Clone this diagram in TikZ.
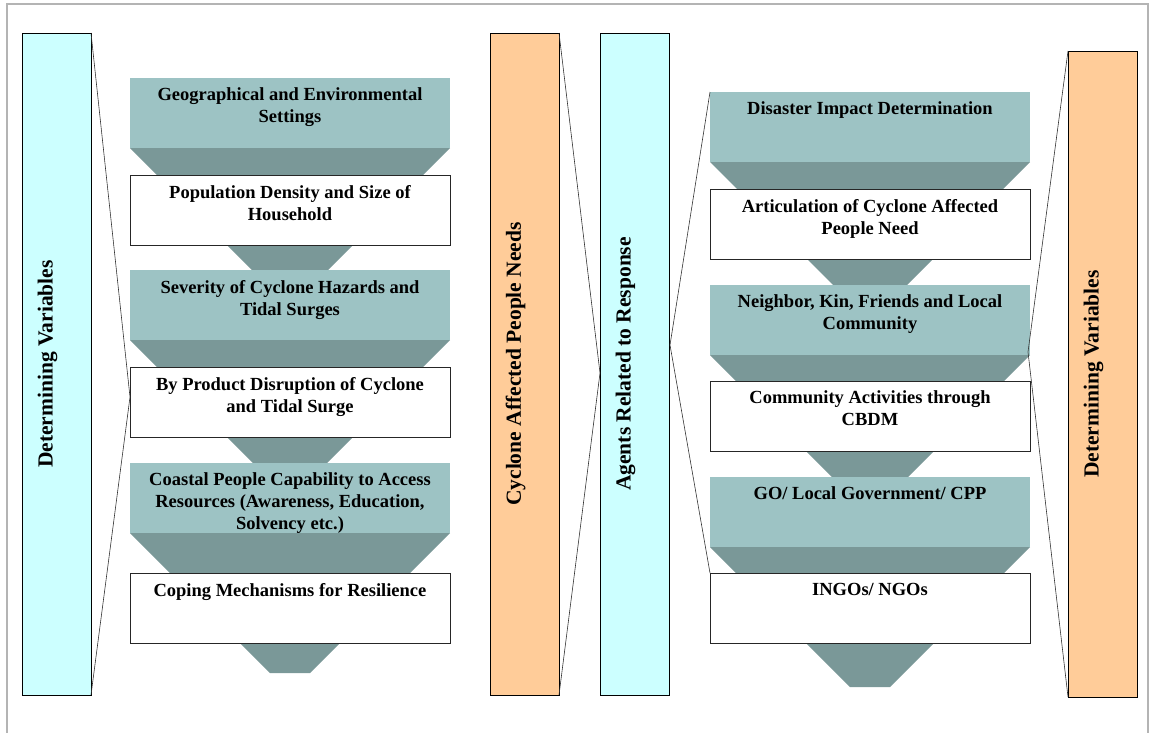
\documentclass[tikz,border=0pt]{standalone}
\usepackage{fontspec}
\setmainfont{Liberation Serif}
\usetikzlibrary{positioning,backgrounds}

\definecolor{paleteal}{RGB}{157,195,196}
\definecolor{darkteal}{RGB}{122,152,152}
\definecolor{barcyan}{RGB}{204,255,255}
\definecolor{barorange}{RGB}{255,204,153}
\definecolor{framegray}{RGB}{180,180,180}

\newcommand{\toptext}[1]{\parbox[t][60pt][t]{310pt}{\vspace*{5pt}\centering\bfseries #1}}

\tikzset{
  stage/.style={minimum width=320pt, minimum height=70pt, inner sep=5pt, outer sep=0pt,
    font=\fontsize{18.5}{22}\selectfont},
  tealbox/.style={stage, fill=paleteal},
  whitebox/.style={stage, draw=black!85, fill=white, line width=0.8pt},
  funnel/.style={fill=darkteal},
  bar/.style={draw=black, line width=0.8pt, minimum width=69pt, minimum height=662pt, outer sep=0pt},
  vlabel/.style={xshift=-9pt, rotate=90, font=\fontsize{21.5}{25}\selectfont\bfseries},
  brace/.style={draw=black!80, line width=0.6pt}
}

\begin{document}
\begin{tikzpicture}[x=1pt, y=-1pt]
  \useasboundingbox (0,0) rectangle (1151,732);
  \draw[framegray, line width=1.2pt] (7,745) -- (7,4) -- (1148,4) -- (1148,745);

  % side bars
  \node[bar, fill=barcyan, anchor=north west] (lb) at (22,33) {};
  \node[bar, fill=barorange, anchor=north west] (ob) at (490,33) {};
  \node[bar, fill=barcyan, anchor=north west] (ab) at (600,33) {};
  \node[bar, fill=barorange, anchor=north west, minimum height=646pt] (rb) at (1068,51) {};
  \node[vlabel] (lbt) at (lb.center) {Determining Variables};
  \node[vlabel] (obt) at (ob.center) {Cyclone Affected People Needs};
  \node[vlabel] (abt) at (ab.center) {Agents Related to Response};
  \node[vlabel] (rbt) at (rb.center) {Determining Variables};

  % left column
  \node[tealbox, anchor=north west] (l1) at (130,78) {\toptext{Geographical and Environmental\\Settings}};
  \node[whitebox, anchor=north west] (l2) at (130,175) {\toptext{Population Density and Size of\\Household}};
  \node[tealbox, anchor=north west] (l3) at (130,270) {\toptext{Severity of Cyclone Hazards and\\Tidal Surges}};
  \node[whitebox, anchor=north west] (l4) at (130,367) {\toptext{By Product Disruption of Cyclone\\and Tidal Surge}};
  \node[tealbox, anchor=north west] (l5) at (130,463) {\toptext{Coastal People Capability to Access\\Resources (Awareness, Education,\\Solvency etc.)}};
  \node[whitebox, anchor=north west] (l6) at (130,573) {\toptext{Coping Mechanisms for Resilience}};

  % right column
  \node[tealbox, anchor=north west, minimum width=318pt] (r1) at (710,92) {\toptext{Disaster Impact Determination}};
  \node[whitebox, anchor=north west, minimum width=318pt] (r2) at (710,189) {\toptext{Articulation of Cyclone Affected\\People Need}};
  \node[tealbox, anchor=north west, minimum width=318pt] (r3) at (710,285) {\toptext{Neighbor, Kin, Friends and Local\\Community}};
  \node[whitebox, anchor=north west, minimum width=318pt] (r4) at (710,381) {\toptext{Community Activities through\\CBDM}};
  \node[tealbox, anchor=north west, minimum width=318pt] (r5) at (710,477) {\toptext{GO/ Local Government/ CPP}};
  \node[whitebox, anchor=north west, minimum width=318pt] (r6) at (710,573) {\toptext{INGOs/ NGOs}};

  % funnels under each teal step
  \begin{scope}[on background layer]
    \foreach \t in {l1,l3,l5,r1,r3,r5}
      \fill[funnel] (\t.south west) -- (\t.south east)
        -- ([xshift=20pt,yshift=-140pt]\t.south) -- ([xshift=-20pt,yshift=-140pt]\t.south) -- cycle;
  \end{scope}

  % brackets
  \coordinate (lapex) at (130,397);
  \coordinate (mapex) at (600,373);
  \coordinate (aapex) at (670,345);
  \coordinate (rapex) at (1028,352);
  \draw[brace] (lb.north east) -- (lapex) -- (lb.south east);
  \draw[brace] (ob.north east) -- (mapex) -- (ob.south east);
  \draw[brace] (r1.north west) -- (aapex) -- (r6.north west);
  \draw[brace] (rb.north west) -- (rapex) -- (rb.south west);
\end{tikzpicture}
\end{document}
